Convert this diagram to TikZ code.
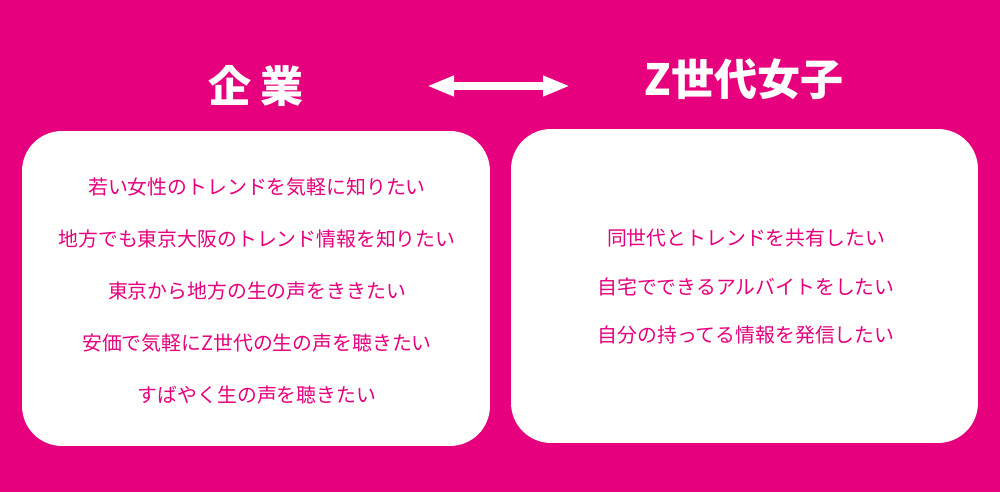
\documentclass[tikz,border=0pt]{standalone}
\usepackage{fontspec}
\newfontfamily\jpfont{Noto Sans CJK JP}
\usetikzlibrary{arrows.meta}
\definecolor{pinkbg}{HTML}{E6007E}

\tikzset{
  panel/.style={fill=white, rounded corners=0.8cm, inner sep=0pt},
  headline/.style={text=white, font=\jpfont\fontsize{24.5}{27}\selectfont\bfseries},
  wish/.style={text=pinkbg, font=\jpfont\fontsize{11.3}{13}\selectfont}
}

\begin{document}
\begin{tikzpicture}[x=0.02cm,y=-0.02cm]
    \fill[pinkbg] (0,0) rectangle (1000,492);
    \useasboundingbox (0,0) rectangle (1000,492);

    % titles and arrow
    \node[headline] (kigyou) at (256,86) {企 業};
    \node[headline] (zgirls) at (744,79) {Z世代女子};
    \coordinate (arrL) at (427,86);
    \coordinate (arrR) at (570,86);
    \draw[white, line width=0.16cm, {Triangle[width=0.38cm,length=0.54cm]}-{Triangle[width=0.38cm,length=0.54cm]}] (arrL) -- (arrR);

    % panels
    \node[panel, minimum width=9.36cm, minimum height=6.3cm] (boxL) at (256,288.5) {};
    \node[panel, minimum width=9.34cm, minimum height=6.28cm] (boxR) at (744.5,286) {};

    \foreach \t [count=\i] in {若い女性のトレンドを気軽に知りたい,
                               地方でも東京大阪のトレンド情報を知りたい,
                               東京から地方の生の声をききたい,
                               安価で気軽にZ世代の生の声を聴きたい,
                               すばやく生の声を聴きたい}{
        \node[wish] (left\i) at (257,187+52*\i-52) {\t};
    }
    \foreach \t [count=\i] in {同世代とトレンドを共有したい,
                               自宅でできるアルバイトをしたい,
                               自分の持ってる情報を発信したい}{
        \node[wish] (right\i) at (746,238+48.5*\i-48.5) {\t};
    }
\end{tikzpicture}
\end{document}
